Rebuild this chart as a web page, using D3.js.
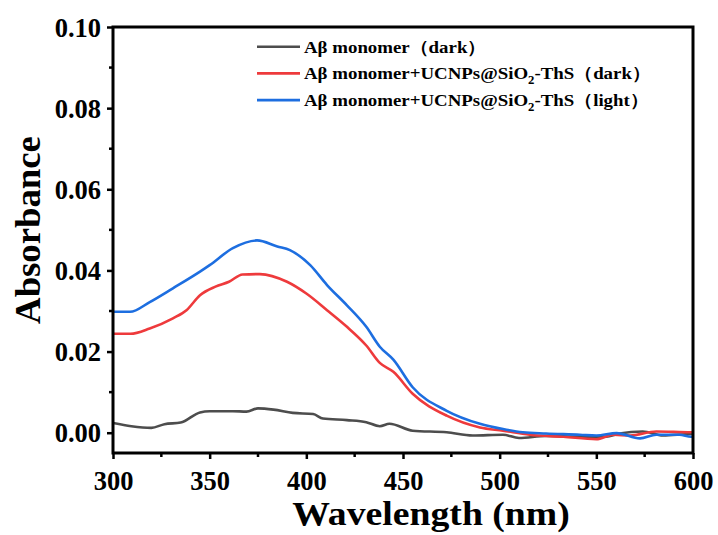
<!DOCTYPE html>
<html><head><meta charset="utf-8">
<script src="https://cdn.jsdelivr.net/npm/d3@7/dist/d3.min.js"></script>
<style>body{margin:0;background:#fff}svg{display:block}</style>
</head><body><svg id="c" width="718" height="535"></svg>
<script>
const xTicks = [300,350,400,450,500,550,600];
const yTicks = [0,0.02,0.04,0.06,0.08,0.10];
const grayWl = [300,309.5,319.8,326.6,335,345,350,362,369,375,383,393,403.5,408.6,421,431,438,443,455,472.6,486,501.7,510,524,541.5,555,562,574,584.5,599,600];
const grayVal = [0.0024,0.0016,0.0012,0.0021,0.0025,0.0050,0.0053,0.0053,0.0052,0.0060,0.0057,0.0049,0.0046,0.0035,0.0031,0.0026,0.0016,0.0022,0.0005,0.0001,-0.0007,-0.0005,-0.0013,-0.0008,-0.0010,-0.0010,-0.0002,0.0003,-0.0007,-0.0003,-0.0003];
const redWl = [300,309,319,331,338,345,353,360,367,376,390,400,410.7,421,431,438,445,455,472.6,489.8,501.7,515.5,533,550,558.8,567.4,581,599,600];
const redVal = [0.0244,0.0244,0.0257,0.0282,0.0302,0.0339,0.0360,0.0372,0.0390,0.0391,0.0372,0.0343,0.0302,0.0261,0.0215,0.0172,0.0150,0.0096,0.0042,0.0013,0.0005,-0.0005,-0.0010,-0.0016,-0.0005,-0.0007,0.0003,0.0001,0.0001];
const blueWl = [300,308.8,319,331,345,350,362,374.5,385,391.5,402,410.7,421,431,438,445,455,472.6,489.8,501.7,512,524,541.5,550,560.5,572.6,581,593,599,600];
const blueVal = [0.0298,0.0298,0.0322,0.0356,0.0397,0.0413,0.0455,0.0474,0.0459,0.0450,0.0413,0.0364,0.0314,0.0261,0.0212,0.0180,0.0112,0.0054,0.0022,0.0009,0.0001,-0.0002,-0.0005,-0.0007,-0.0001,-0.0014,-0.0005,-0.0005,-0.0010,-0.0010];
const seriesNames = ["Aβ monomer（dark）","Aβ monomer+UCNPs@SiO|2|-ThS（dark）","Aβ monomer+UCNPs@SiO|2|-ThS（light）"];
const seriesColors = ["#4d4d4d","#ee3a3c","#1d6ee0"];

const svg = d3.select("#c");
const L=113,R=693,T=27,B=453;
const x = d3.scaleLinear().domain([300,600]).range([L,R]);
const y = d3.scaleLinear().domain([-0.005,0.10]).range([B,T]);
const font = "'Liberation Serif','Times New Roman',serif";

const series = [[grayWl,grayVal],[redWl,redVal],[blueWl,blueVal]];
const line = d3.line().x(d=>x(d[0])).y(d=>y(d[1])).curve(d3.curveMonotoneX);
svg.append("defs").append("clipPath").attr("id","cp").append("rect").attr("x",L).attr("y",T).attr("width",R-L).attr("height",B-T);
series.forEach((s,i)=>{
  const pts = s[0].map((w,j)=>[w,s[1][j]]);
  svg.append("path").datum(pts).attr("d",line).attr("fill","none")
    .attr("stroke",seriesColors[i]).attr("stroke-width",2.6).attr("clip-path","url(#cp)");
});

// axes
const xAxis = d3.axisBottom(x).tickValues(xTicks).tickFormat(d3.format("d")).tickSize(6).tickPadding(5);
const gx = svg.append("g").attr("transform",`translate(0,${B})`).call(xAxis);
const yAxis = d3.axisLeft(y).tickValues(yTicks).tickFormat(d3.format(".2f")).tickSize(6).tickPadding(6);
const gy = svg.append("g").attr("transform",`translate(${L},0)`).call(yAxis);
[gx,gy].forEach(g=>{
  g.select(".domain").remove();
  g.selectAll(".tick line").attr("stroke","#000").attr("stroke-width",2.5);
  g.selectAll(".tick text").attr("font-family",font).attr("font-weight","bold").attr("font-size",26.5).attr("fill","#000");
});
gx.selectAll(".tick text").attr("y",37).attr("dy",0);
gy.selectAll(".tick text").attr("dy","0.34em");
// minor ticks
const xMinor = d3.range(325,600,50);
svg.append("g").selectAll("line").data(xMinor).join("line")
  .attr("x1",d=>x(d)).attr("x2",d=>x(d)).attr("y1",B).attr("y2",B+4).attr("stroke","#000").attr("stroke-width",2.5);
const yMinor = [0.01,0.03,0.05,0.07,0.09];
svg.append("g").selectAll("line").data(yMinor).join("line")
  .attr("x1",L-4).attr("x2",L).attr("y1",d=>y(d)).attr("y2",d=>y(d)).attr("stroke","#000").attr("stroke-width",2.5);
// frame
svg.append("rect").attr("x",L).attr("y",T).attr("width",R-L).attr("height",B-T)
  .attr("fill","none").attr("stroke","#000").attr("stroke-width",3);

// titles
svg.append("g").attr("transform","translate(431,525) scale(1.11,1)")
  .append("text").attr("x",0).attr("y",0).attr("text-anchor","middle")
  .attr("font-family",font).attr("font-weight","bold").attr("font-size",34).text("Wavelength (nm)");
svg.append("g").attr("transform","translate(40,230) rotate(-90) scale(1.05,1)")
  .append("text").attr("text-anchor","middle")
  .attr("font-family",font).attr("font-weight","bold").attr("font-size",35).text("Absorbance");

// legend
const lg = svg.append("g");
seriesNames.forEach((n,i)=>{
  const yy = 46.7 + i*26.7;
  lg.append("line").attr("x1",257).attr("x2",300).attr("y1",yy).attr("y2",yy)
    .attr("stroke",seriesColors[i]).attr("stroke-width",2.6);
  const t = lg.append("g").attr("transform",`translate(304,${yy+6}) scale(1.11,1)`).append("text")
    .attr("font-family",font).attr("font-weight","bold").attr("font-size",17).attr("fill","#000");
  n.split("|").forEach((part,k)=>{
    const ts = t.append("tspan").text(part);
    if(k===1){ ts.attr("font-size",11.5).attr("dy",4.5); }
    if(k===2){ ts.attr("dy",-4.5); }
  });
});
</script></body></html>
